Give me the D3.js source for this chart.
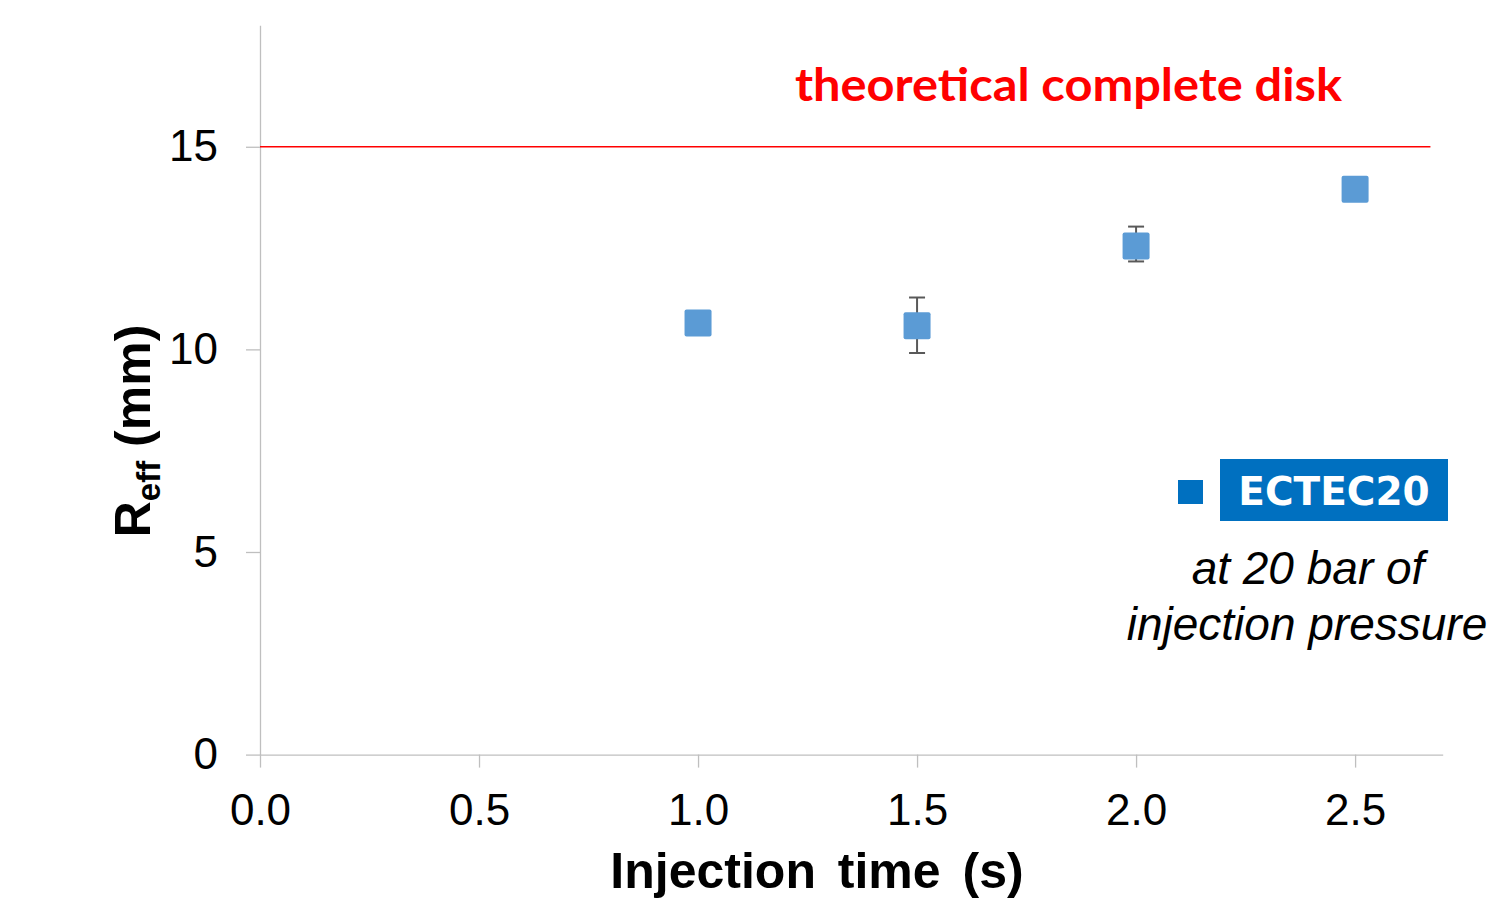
<!DOCTYPE html>
<html lang="en">
<head>
<meta charset="UTF-8">
<title>Reff vs injection time</title>
<script src="https://cdn.jsdelivr.net/npm/d3@7"></script>
<style>
  body { margin: 0; background: #fff; }
  svg { display: block; }
</style>
</head>
<body>
<svg id="main" width="1489" height="900"></svg>
<script>
// data
const times = [1.0, 1.5, 2.0, 2.5];
const reff = [10.65, 10.58, 12.55, 13.95];
const errLow = [null, 9.91, 12.17, null];
const errHigh = [null, 11.28, 13.03, null];
const xTicks = [0, 0.5, 1.0, 1.5, 2.0, 2.5];
const yTicks = [0, 5, 10, 15];
const refValue = 15;
const refEnd = 2.672;

const svg = d3.select('#main');
const axisColor = '#bfbfbf';

const x = d3.scaleLinear().domain([0, 2.7]).range([260, 1442.7]);
const y = d3.scaleLinear().domain([0, 18]).range([754.6, 25.2]);

// y axis
const gy = svg.append('g')
    .attr('transform', `translate(${x(0)},0)`)
    .call(d3.axisLeft(y).tickValues(yTicks).tickSize(14).tickPadding(28).tickSizeOuter(0).tickFormat(d3.format('d')));
// x axis
const gx = svg.append('g')
    .attr('transform', `translate(0,${y(0)})`)
    .call(d3.axisBottom(x).tickValues(xTicks).tickSize(13).tickPadding(26).tickSizeOuter(0).tickFormat(d3.format('.1f')));

[gx, gy].forEach(g => {
    g.selectAll('path.domain').attr('stroke', axisColor).attr('stroke-width', 1.3);
    g.selectAll('.tick line').attr('stroke', axisColor).attr('stroke-width', 1.3);
    g.selectAll('.tick text')
        .attr('fill', '#000')
        .style('font-family', '"Liberation Sans", Arial, sans-serif')
        .style('font-size', '44px');
});

// reference line
svg.append('line')
    .attr('x1', x(0)).attr('x2', x(refEnd))
    .attr('y1', y(refValue)).attr('y2', y(refValue))
    .attr('stroke', '#ff0000')
    .attr('stroke-width', 1.6);

svg.append('text')
    .attr('x', 795).attr('y', 101)
    .attr('textLength', 547)
    .attr('lengthAdjust', 'spacingAndGlyphs')
    .attr('fill', '#ff0000')
    .style('font-family', 'Lato, "Open Sans", sans-serif')
    .style('font-weight', 'bold')
    .style('font-size', '46px')
    .text('theoretical complete disk');

// error bars
const pts = times.map((t, i) => ({ t: t, v: reff[i], lo: errLow[i], hi: errHigh[i] }));
const withErr = pts.filter(d => d.lo !== null);
const eb = svg.append('g').attr('stroke', '#595959').attr('stroke-width', 2);
eb.selectAll('line.stem').data(withErr).join('line')
    .attr('class', 'stem')
    .attr('x1', d => x(d.t)).attr('x2', d => x(d.t))
    .attr('y1', d => y(d.lo)).attr('y2', d => y(d.hi));
eb.selectAll('line.capHi').data(withErr).join('line')
    .attr('class', 'capHi')
    .attr('x1', d => x(d.t) - 8).attr('x2', d => x(d.t) + 8)
    .attr('y1', d => y(d.hi)).attr('y2', d => y(d.hi));
eb.selectAll('line.capLo').data(withErr).join('line')
    .attr('class', 'capLo')
    .attr('x1', d => x(d.t) - 8).attr('x2', d => x(d.t) + 8)
    .attr('y1', d => y(d.lo)).attr('y2', d => y(d.lo));

// markers
const size = 27;
svg.append('g').selectAll('rect').data(pts).join('rect')
    .attr('x', d => x(d.t) - size / 2)
    .attr('y', d => y(d.v) - size / 2)
    .attr('width', size).attr('height', size)
    .attr('rx', 2)
    .attr('fill', '#5b9bd5');

// axis titles
const yl = svg.append('text')
    .attr('transform', 'translate(150,431) rotate(-90)')
    .attr('text-anchor', 'middle')
    .attr('fill', '#000')
    .style('font-family', '"Liberation Sans", Arial, sans-serif')
    .style('font-weight', 'bold')
    .style('font-size', '50px');
yl.append('tspan').text('R');
yl.append('tspan').attr('dy', 10).style('font-size', '33px').text('eff');
yl.append('tspan').attr('dy', -10).text(' (mm)');

svg.append('text')
    .attr('x', 817).attr('y', 888)
    .attr('text-anchor', 'middle')
    .attr('fill', '#000')
    .style('font-family', '"Liberation Sans", Arial, sans-serif')
    .style('font-weight', 'bold')
    .style('font-size', '50px')
    .style('word-spacing', '8px')
    .text('Injection time (s)');

// legend
svg.append('rect')
    .attr('x', 1178).attr('y', 480).attr('width', 25).attr('height', 24)
    .attr('fill', '#0070c0');
svg.append('rect')
    .attr('x', 1220).attr('y', 459).attr('width', 228).attr('height', 62)
    .attr('fill', '#0070c0');
svg.append('text')
    .attr('x', 1334).attr('y', 505)
    .attr('text-anchor', 'middle')
    .attr('fill', '#fff')
    .style('font-family', '"DejaVu Sans", Verdana, sans-serif')
    .style('font-weight', 'bold')
    .style('font-size', '39px')
    .text('ECTEC20');

const note = svg.append('text')
    .attr('text-anchor', 'middle')
    .attr('fill', '#000')
    .style('font-family', '"Liberation Sans", Arial, sans-serif')
    .style('font-style', 'italic')
    .style('font-size', '46px');
note.append('tspan').attr('x', 1308).attr('y', 584).text('at 20 bar of');
note.append('tspan').attr('x', 1307).attr('y', 640).text('injection pressure');
</script>
</body>
</html>
